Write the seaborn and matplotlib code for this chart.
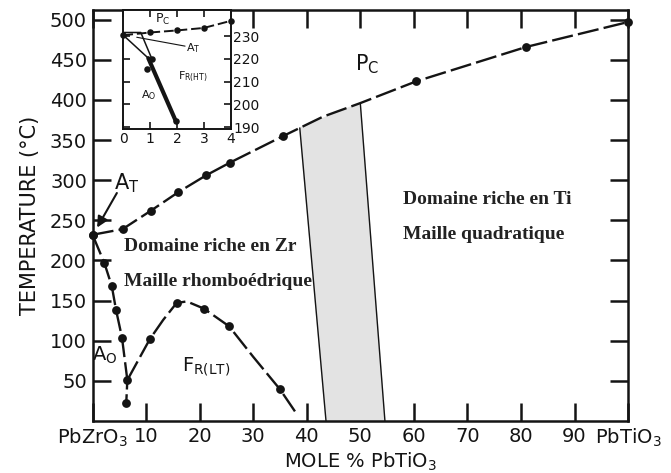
import numpy as np
import matplotlib
matplotlib.use("Agg")
import matplotlib.pyplot as plt
import seaborn as sns

# Pc boundary (paraelectric cubic) - dots
pc_x = [0, 5.6, 10.9, 16.0, 21.2, 25.7, 35.6, 60.4, 81.0, 100]
pc_y = [232, 239, 262, 285, 306, 322, 355, 423, 466, 497]
# the dashed curve also runs over the MPB where there are no dots
pc_line_x = [0, 5.6, 10.9, 16.0, 21.2, 25.7, 35.6, 43.0, 50.0, 60.4, 81.0, 100]
pc_line_y = [232, 239, 262, 285, 306, 322, 355, 379, 396, 423, 466, 497]

# Ao / FR boundary on the Zr side
ao_x = [0, 2.2, 3.6, 4.4, 5.5, 6.5]
ao_y = [232, 197, 168, 138, 104, 51]
ao_tail_x = [6.5, 6.3]
ao_tail_y = [51, 23]

# FR(LT) / FR(HT) boundary
frl_line_x = [6.5, 10.7, 13.2, 15.7, 17.6, 20.8, 25.5, 30.0, 35.0, 37.8]
frl_line_y = [51, 102, 126, 147, 149, 140, 118, 80, 39.5, 12]
frl_dot_x = [10.7, 15.7, 20.8, 25.5, 35.0]
frl_dot_y = [102, 147, 140, 118, 39.5]

# morphotropic phase boundary (grey band) corners on x
mpb_left = [38.7, 43.6]   # top, bottom
mpb_right = [50.0, 54.6]

x_ticks = [0, 10, 20, 30, 40, 50, 60, 70, 80, 90, 100]
x_labels = ["PbZrO$_3$", "10", "20", "30", "40", "50", "60", "70", "80", "90", "PbTiO$_3$"]
y_ticks = [50, 100, 150, 200, 250, 300, 350, 400, 450, 500]

# inset: 0-4 mol% PbTiO3 close-up
in_pc_x = [0, 1, 2, 3, 4]
in_pc_y = [230.4, 231.6, 232.5, 233.6, 236.7]
in_at_top_x = [0, 0.65, 1.06]
in_at_top_y = [231.6, 231.6, 220.1]
in_at_left_x = [0, 0.93]
in_at_left_y = [230.4, 220.3]
in_fr_x = [0.93, 1.96]
in_fr_y = [220.3, 192.5]
in_dot_x = [1.06, 0.9, 1.96]
in_dot_y = [220.1, 215.7, 192.5]

sns.set_style("ticks")
plt.rcParams["font.family"] = ["DejaVu Sans"]
plt.rcParams["mathtext.default"] = "regular"

ink = "#141414"
dash = (0, (9, 2.2))

fig = plt.figure(figsize=(6.71, 4.73), dpi=100)
ax = fig.add_axes([0.1379, 0.1099, 0.7981, 0.869])

# grey MPB band, top edge following the Pc curve
top_l = np.interp(mpb_left[0], pc_line_x, pc_line_y)
top_r = np.interp(mpb_right[0], pc_line_x, pc_line_y)
ax.fill([mpb_left[1], mpb_left[0], mpb_right[0], mpb_right[1]],
        [0, top_l, top_r, 0], color="#e3e3e3", zorder=1)
ax.plot([mpb_left[1], mpb_left[0]], [0, top_l], color=ink, lw=1.0, zorder=2)
ax.plot([mpb_right[1], mpb_right[0]], [0, top_r], color=ink, lw=1.0, zorder=2)

# boundaries
sns.lineplot(x=pc_line_x, y=pc_line_y, sort=False, estimator=None, ax=ax,
             color=ink, lw=1.7, linestyle=dash)
sns.scatterplot(x=pc_x, y=pc_y, ax=ax, color=ink, s=40, linewidth=0, zorder=4,
                clip_on=False)

sns.lineplot(x=ao_x, y=ao_y, sort=False, estimator=None, ax=ax,
             color=ink, lw=1.7, linestyle=dash)
sns.lineplot(x=ao_tail_x, y=ao_tail_y, sort=False, estimator=None, ax=ax,
             color=ink, lw=1.7, linestyle=(0, (4, 2)))
sns.scatterplot(x=ao_x + ao_tail_x[1:], y=ao_y + ao_tail_y[1:], ax=ax,
                color=ink, s=40, linewidth=0, zorder=4, clip_on=False)

sns.lineplot(x=frl_line_x, y=frl_line_y, sort=False, estimator=None, ax=ax,
             color=ink, lw=1.7, linestyle=dash)
sns.scatterplot(x=frl_dot_x, y=frl_dot_y, ax=ax, color=ink, s=40, linewidth=0, zorder=4)

ax.set_xlim(0, 100)
ax.set_ylim(0, 512)
ax.set_xticks(x_ticks)
ax.set_xticklabels(x_labels)
ax.set_yticks(y_ticks)
ax.tick_params(direction="in", top=True, right=True, length=13, width=1.8,
               labelsize=14, colors=ink, pad=4)
for s in ax.spines.values():
    s.set_linewidth(1.8)
    s.set_color(ink)
ax.set_ylabel("TEMPERATURE (°C)", fontsize=15, labelpad=7, color=ink)
ax.set_xlabel("MOLE % PbTiO$_3$", fontsize=14, labelpad=1, color=ink)

# phase labels
ax.text(51.2, 444, "P$_C$", fontsize=15, ha="center", va="center", color=ink)
ax.text(2.3, 82, "A$_O$", fontsize=14, ha="center", va="center", color=ink)
ax.text(21.3, 68, "F$_{R(LT)}$", fontsize=14, ha="center", va="center", color=ink)
ax.text(6.3, 296, "A$_T$", fontsize=15, ha="center", va="center", color=ink)
ax.annotate("", xy=(0.6, 238), xytext=(4.8, 287),
            arrowprops=dict(arrowstyle="-|>", color=ink, lw=1.5, mutation_scale=16))

serif = dict(family="Liberation Serif", fontweight="bold", fontsize=14, color="#222222")
ax.text(5.8, 217, "Domaine riche en Zr", ha="left", va="center", **serif)
ax.text(5.8, 174, "Maille rhomboédrique", ha="left", va="center", **serif)
ax.text(58.0, 276, "Domaine riche en Ti", ha="left", va="center", **serif)
ax.text(58.0, 232, "Maille quadratique", ha="left", va="center", **serif)

# inset
axi = fig.add_axes([0.1838, 0.7266, 0.16, 0.2523])
axi.set_facecolor("white")
sns.lineplot(x=in_pc_x, y=in_pc_y, sort=False, estimator=None, ax=axi,
             color=ink, lw=1.4, linestyle=(0, (5, 2)))
sns.scatterplot(x=in_pc_x, y=in_pc_y, ax=axi, color=ink, s=22, linewidth=0, zorder=4,
                clip_on=False)
axi.plot(in_at_top_x, in_at_top_y, color=ink, lw=1.1)
axi.plot(in_at_left_x, in_at_left_y, color=ink, lw=1.1)
axi.plot(in_fr_x, in_fr_y, color=ink, lw=3.0)
sns.scatterplot(x=in_dot_x, y=in_dot_y, ax=axi, color=ink, s=22, linewidth=0, zorder=4)
axi.plot([0.5, 2.3], [229.5, 225.6], color=ink, lw=0.8)

axi.text(1.45, 237.5, "P$_C$", fontsize=9, ha="center", va="center", color=ink)
axi.text(2.6, 224.8, "A$_T$", fontsize=8, ha="center", va="center", color=ink)
axi.text(2.6, 212, "F$_{R(HT)}$", fontsize=8, ha="center", va="center", color=ink)
axi.text(0.93, 204, "A$_O$", fontsize=8, ha="center", va="center", color=ink)

axi.set_xlim(0, 4)
axi.set_ylim(189, 241.5)
axi.set_xticks([0, 1, 2, 3, 4])
axi.set_yticks([190, 200, 210, 220, 230])
axi.tick_params(direction="in", top=True, right=True, left=True, labelleft=False,
                labelright=True, length=5, width=1.2, labelsize=10, colors=ink, pad=2)
for s in axi.spines.values():
    s.set_linewidth(1.4)
    s.set_color(ink)

fig.savefig("out.png", dpi=100)
